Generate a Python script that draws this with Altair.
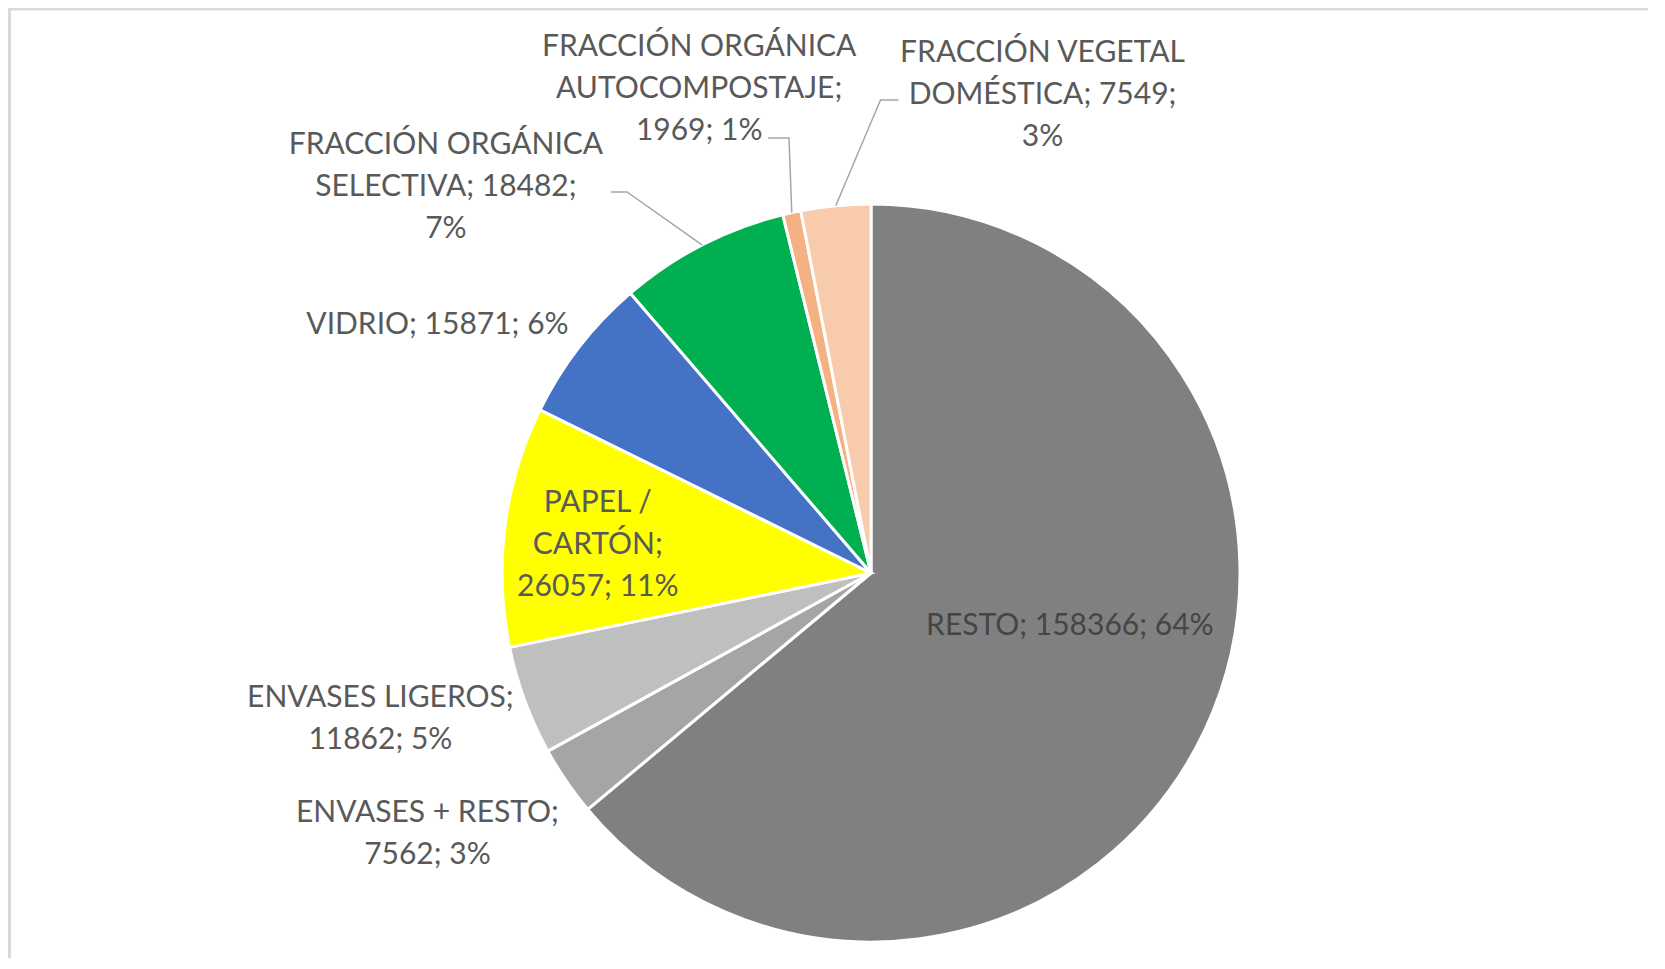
import math
import altair as alt
import pandas as pd

# ---- data ----
categories = [
    "RESTO",
    "ENVASES + RESTO",
    "ENVASES LIGEROS",
    "PAPEL / CARTÓN",
    "VIDRIO",
    "FRACCIÓN ORGÁNICA SELECTIVA",
    "FRACCIÓN ORGÁNICA AUTOCOMPOSTAJE",
    "FRACCIÓN VEGETAL DOMÉSTICA",
]
values = [158366, 7562, 11862, 26057, 15871, 18482, 1969, 7549]
colors = ["#808080", "#a5a5a5", "#bfbfbf", "#ffff00", "#4472c4", "#00b050", "#f4b183", "#f8cbad"]

# ---- layout (not data) ----
CX, CY, R = 863, 565, 369
LH = 42
words_per_line = [[3], [3, 2], [2, 2], [2, 1, 2], [3], [2, 2, 1], [2, 1, 2], [2, 2, 1]]
label_r = [205, 513, 511, 275, 501, 576, 516, 511]
label_nudge = [-11.0, 4.2, 4.0, -0.75, -7.7, -20.3, -7.05, 25.1]
label_colors = ["#454545"] + ["#595959"] * 7
leader_knees = {
    5: [(-260, -381), (-244, -381)],
    6: [(-103, -435), (-82, -435)],
    7: [(27.5, -473), (9.5, -473)],
}

total = sum(values)
rows, lab_rows, line_rows = [], [], []
cum = 0
for i, (c, v) in enumerate(zip(categories, values)):
    pct = round(v / total * 100)
    tokens = f"{c}; {v}; {pct}%".split(" ")
    lines, k = [], 0
    for n in words_per_line[i]:
        lines.append(" ".join(tokens[k:k + n]))
        k += n
    text = "\n".join(lines)
    mid = (cum + v / 2) / total * 360
    cum += v
    rows.append({"cat": c, "value": v, "idx": i})
    a = math.radians(mid + label_nudge[i])
    n_lines = len(lines)
    lab_rows.append({"cat": c, "text": text, "tcol": label_colors[i],
                     "lx": CX + label_r[i] * math.sin(a),
                     "ly": CY - label_r[i] * math.cos(a) - (n_lines - 1) * LH / 2})
    if i in leader_knees:
        am = math.radians(mid)
        pts = [(CX + dx, CY + dy) for dx, dy in leader_knees[i]]
        pts.append((CX + R * math.sin(am), CY - R * math.cos(am)))
        for j, (px, py) in enumerate(pts):
            line_rows.append({"cat": c, "o": j, "px": px, "py": py})

df = pd.DataFrame(rows)
lab = pd.DataFrame(lab_rows)
lines_df = pd.DataFrame(line_rows)

FONT = "Lato"

pie = alt.Chart(df).mark_arc(radius=R, stroke="white", strokeWidth=3, x=CX, y=CY).encode(
    theta=alt.Theta("value:Q", stack=True),
    order=alt.Order("idx:Q"),
    color=alt.Color("cat:N", scale=alt.Scale(domain=categories, range=colors), legend=None),
)

leaders = alt.Chart(lines_df).mark_line(color="#a6a6a6", strokeWidth=1.5).encode(
    x=alt.X("px:Q", scale=None, axis=None),
    y=alt.Y("py:Q", scale=None, axis=None),
    detail="cat:N",
    order="o:Q",
)

labels = alt.Chart(lab).mark_text(
    font=FONT, fontSize=30, lineBreak="\n", lineHeight=LH,
    align="center", baseline="middle", dy=3,
).encode(
    x=alt.X("lx:Q", scale=None, axis=None),
    y=alt.Y("ly:Q", scale=None, axis=None),
    text="text:N",
    color=alt.Color("tcol:N", scale=None),
)

frame_df = pd.DataFrame({"k": [0]})
frame_top = alt.Chart(frame_df).mark_rule(color="#d9d9d9", strokeWidth=2.5).encode(
    x=alt.value(0), x2=alt.value(1640), y=alt.value(1.2))
frame_left = alt.Chart(frame_df).mark_rule(color="#d9d9d9", strokeWidth=3).encode(
    x=alt.value(1.5), y=alt.value(0), y2=alt.value(950))

chart = alt.layer(frame_top, frame_left, pie, leaders, labels).properties(
    width=1640, height=950,
    autosize=alt.AutoSizeParams(type="none"),
    padding=0,
).configure_view(stroke=None)

chart.save("out.html", embed_options={"renderer": "svg", "actions": False})
